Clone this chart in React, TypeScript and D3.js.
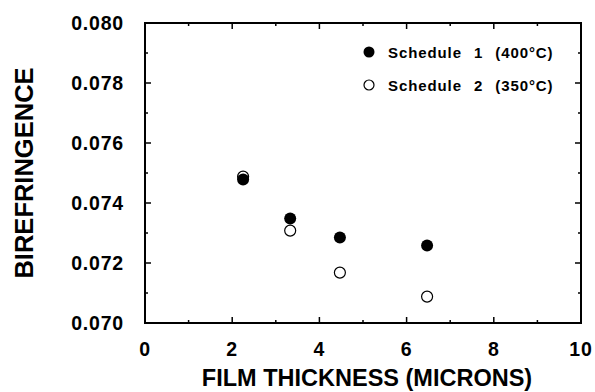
import React, { useEffect, useRef } from 'react';
import * as d3 from 'd3';

// film thickness (microns)
const thickness = [2.25, 3.33, 4.47, 6.47];
// schedule 1 (400°C), filled markers
const schedule1 = [0.07478, 0.07348, 0.07285, 0.07258];
// schedule 2 (350°C), open markers
const schedule2 = [0.07488, 0.07308, 0.07168, 0.07088];

const xTicks = [0, 2, 4, 6, 8, 10];
const yTicks = [0.07, 0.072, 0.074, 0.076, 0.078, 0.08];

const legendLabels = ['Schedule 1 (400°C)', 'Schedule 2 (350°C)'];

export default function App() {
  const ref = useRef<SVGSVGElement>(null);

  useEffect(() => {
    const svg = d3.select(ref.current);
    svg.selectAll('*').remove();

    const left = 145, right = 581, top = 23, bottom = 323;
    const font = 'Liberation Sans, Arial, sans-serif';

    const x = d3.scaleLinear().domain([0, 10]).range([left, right]);
    const y = d3.scaleLinear().domain([0.07, 0.08]).range([bottom, top]);

    // frame
    svg.append('rect')
      .attr('x', left).attr('y', top)
      .attr('width', right - left).attr('height', bottom - top)
      .attr('fill', 'none').attr('stroke', '#000').attr('stroke-width', 2);

    // ticks, all pointing inward
    const xMinor = d3.range(0, 10.01, 1);
    const yMinor = d3.range(0.07, 0.0801, 0.001);
    const tickG = svg.append('g').attr('stroke', '#000').attr('stroke-width', 1.5);
    xMinor.forEach((v, i) => {
      const len = i % 2 === 0 ? 6 : 3;
      tickG.append('line').attr('x1', x(v)).attr('x2', x(v)).attr('y1', bottom).attr('y2', bottom - len);
      tickG.append('line').attr('x1', x(v)).attr('x2', x(v)).attr('y1', top).attr('y2', top + len);
    });
    yMinor.forEach((v, i) => {
      const len = i % 2 === 0 ? 6 : 3;
      tickG.append('line').attr('y1', y(v)).attr('y2', y(v)).attr('x1', left).attr('x2', left + len);
      tickG.append('line').attr('y1', y(v)).attr('y2', y(v)).attr('x1', right).attr('x2', right - len);
    });

    // tick labels
    svg.append('g').selectAll('text').data(xTicks).enter().append('text')
      .attr('x', d => x(d)).attr('y', 356)
      .attr('text-anchor', 'middle')
      .attr('font-family', font).attr('font-weight', 'bold').attr('font-size', 19.5)
      .attr('letter-spacing', 0.8)
      .text(d => d);
    svg.append('g').selectAll('text').data(yTicks).enter().append('text')
      .attr('x', 124).attr('y', d => y(d) + 7)
      .attr('text-anchor', 'end')
      .attr('font-family', font).attr('font-weight', 'bold').attr('font-size', 19.5)
      .attr('letter-spacing', 0.8)
      .text(d => d3.format('.3f')(d));

    // axis titles
    svg.append('text')
      .attr('x', 367).attr('y', 386)
      .attr('text-anchor', 'middle')
      .attr('font-family', font).attr('font-weight', 'bold').attr('font-size', 23.5)
      .text('FILM THICKNESS (MICRONS)');
    svg.append('text')
      .attr('transform', `translate(33, ${(top + bottom) / 2}) rotate(-90)`)
      .attr('text-anchor', 'middle')
      .attr('font-family', font).attr('font-weight', 'bold').attr('font-size', 25.5)
      .text('BIREFRINGENCE');

    // data
    svg.append('g').selectAll('circle').data(thickness).enter().append('circle')
      .attr('cx', d => x(d)).attr('cy', (d, i) => y(schedule2[i]))
      .attr('r', 5.5).attr('fill', '#fff').attr('stroke', '#000').attr('stroke-width', 1.2);
    svg.append('g').selectAll('circle').data(thickness).enter().append('circle')
      .attr('cx', d => x(d)).attr('cy', (d, i) => y(schedule1[i]))
      .attr('r', 6).attr('fill', '#000');

    // legend
    const lg = svg.append('g');
    legendLabels.forEach((label, i) => {
      const cy = 52 + i * 33;
      lg.append('circle')
        .attr('cx', 369).attr('cy', cy).attr('r', i === 0 ? 5.5 : 5)
        .attr('fill', i === 0 ? '#000' : '#fff')
        .attr('stroke', '#000').attr('stroke-width', i === 0 ? 0 : 1.2);
      lg.append('text')
        .attr('x', 388).attr('y', cy + 6)
        .attr('font-family', font).attr('font-weight', 'bold').attr('font-size', 15)
        .attr('word-spacing', 7).attr('letter-spacing', 0.9)
        .text(label);
    });
  }, []);

  return (
    <svg ref={ref} width={595} height={392} style={{ position: 'absolute', left: 0, top: 0, background: '#fff' }} />
  );
}
